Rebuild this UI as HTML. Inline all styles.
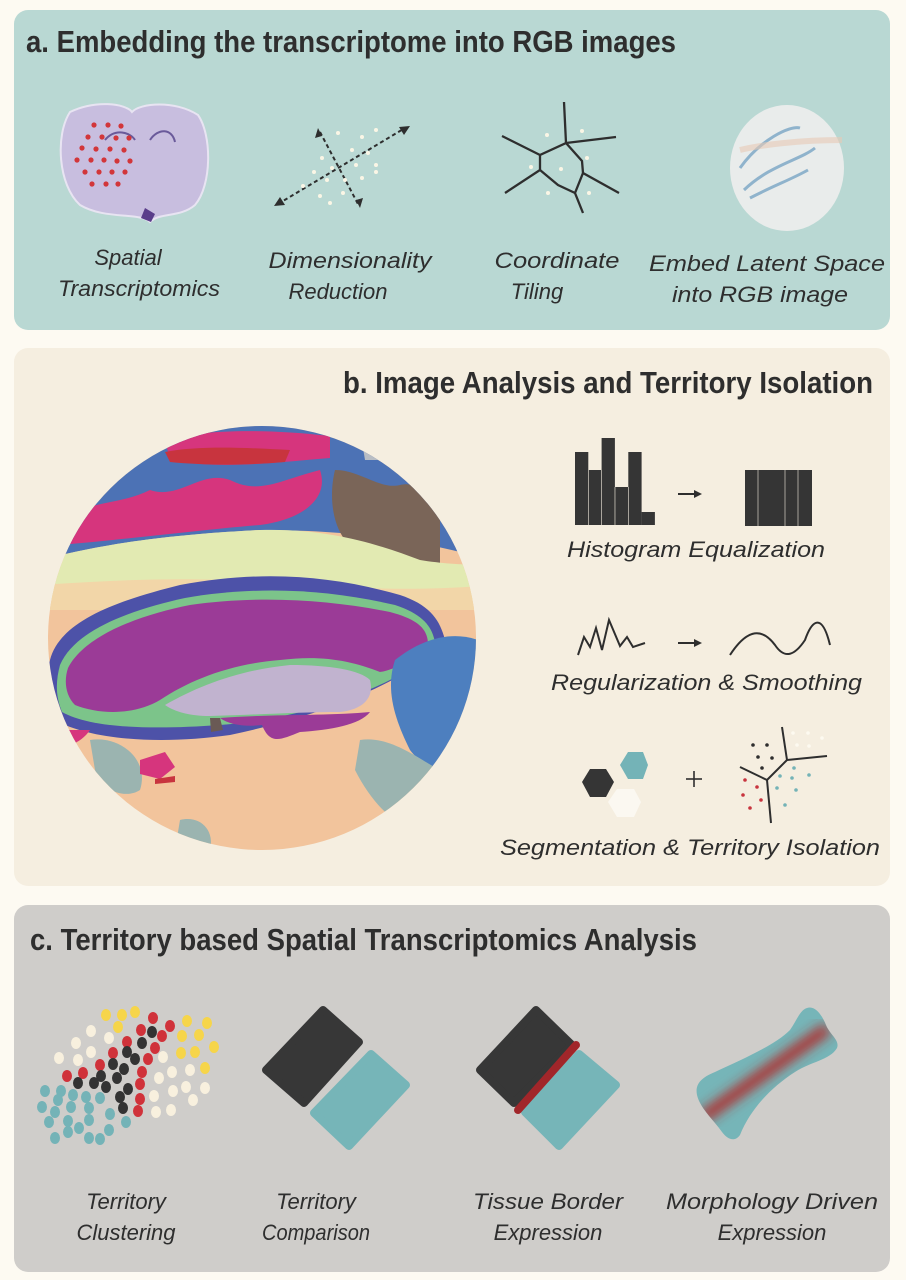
<!DOCTYPE html>
<html><head><meta charset="utf-8"><style>
html,body{margin:0;padding:0;background:#fdfaf2;}
svg{display:block}
.t{font-family:"Liberation Sans Narrow","Liberation Sans",sans-serif;font-weight:bold;fill:#2e2e2e}
.l{font-family:"Liberation Sans",sans-serif;font-style:italic;fill:#2e2e2e;font-size:22px}
</style></head><body>
<svg width="906" height="1280" viewBox="0 0 906 1280" xmlns="http://www.w3.org/2000/svg">
<defs>
<clipPath id="cc"><ellipse cx="262" cy="638" rx="214" ry="212"/></clipPath>
<clipPath id="mc"><path d="M807,1008 C815,1005 822,1015 826,1025 C830,1035 840,1040 837,1048 C830,1060 810,1062 795,1072 C770,1088 750,1110 740,1135 C735,1142 728,1140 722,1132 C712,1118 700,1108 697,1095 C695,1085 700,1078 715,1072 C745,1058 775,1045 790,1030 C797,1020 800,1010 807,1008Z"/></clipPath>
<filter id="bl"><feGaussianBlur stdDeviation="6"/></filter>
</defs>
<rect width="906" height="1280" fill="#fdfaf2"/>
<!-- Panel a -->
<rect x="14" y="10" width="876" height="320" rx="14" fill="#b9d8d3"/>
<text class="t" x="26" y="52" font-size="31" textLength="650" lengthAdjust="spacingAndGlyphs">a. Embedding the transcriptome into RGB images</text>
<path d="M70,112 C95,100 125,103 132,112 C140,103 175,100 198,115 C212,135 212,185 195,205 C180,218 160,212 150,222 C140,212 105,220 80,205 C58,185 55,135 70,112Z" fill="#c8bedf" stroke="#e8e4f2" stroke-width="2"/>
<path d="M145,208 l10,6 l-4,8 l-10,-4z" fill="#5a3d8a"/>
<path d="M105,140 C115,128 130,132 135,140 M150,140 C158,128 172,128 175,142" stroke="#6a5a9a" stroke-width="2" fill="none"/>
<g fill="#d2363a">
<circle cx="94" cy="125" r="2.6"/><circle cx="108" cy="125" r="2.6"/><circle cx="121" cy="126" r="2.6"/>
<circle cx="88" cy="137" r="2.6"/><circle cx="102" cy="137" r="2.6"/><circle cx="116" cy="138" r="2.6"/><circle cx="129" cy="138" r="2.6"/>
<circle cx="82" cy="148" r="2.6"/><circle cx="96" cy="149" r="2.6"/><circle cx="110" cy="149" r="2.6"/><circle cx="124" cy="150" r="2.6"/>
<circle cx="77" cy="160" r="2.6"/><circle cx="91" cy="160" r="2.6"/><circle cx="104" cy="160" r="2.6"/><circle cx="117" cy="161" r="2.6"/><circle cx="130" cy="161" r="2.6"/>
<circle cx="85" cy="172" r="2.6"/><circle cx="99" cy="172" r="2.6"/><circle cx="112" cy="172" r="2.6"/><circle cx="125" cy="172" r="2.6"/>
<circle cx="92" cy="184" r="2.6"/><circle cx="106" cy="184" r="2.6"/><circle cx="118" cy="184" r="2.6"/>
</g>
<g stroke="#2e2e2e" stroke-width="2" stroke-dasharray="4,3" fill="none">
<line x1="278" y1="204" x2="405" y2="128"/><line x1="320" y1="132" x2="358" y2="204"/>
</g>
<path d="M410,126 l-11,1 l5,8z M274,206 l11,-1 l-5,-8z M318,128 l-3,10 l7,-2z M360,208 l3,-10 l-7,2z" fill="#2e2e2e"/>
<g fill="#fbf6e6">
<circle cx="338" cy="133" r="2"/><circle cx="362" cy="137" r="2"/><circle cx="376" cy="130" r="2"/><circle cx="352" cy="150" r="2"/><circle cx="368" cy="153" r="2"/><circle cx="322" cy="158" r="2"/><circle cx="332" cy="168" r="2"/><circle cx="356" cy="165" r="2"/><circle cx="376" cy="165" r="2"/><circle cx="314" cy="172" r="2"/><circle cx="327" cy="180" r="2"/><circle cx="345" cy="180" r="2"/><circle cx="362" cy="178" r="2"/><circle cx="376" cy="172" r="2"/><circle cx="303" cy="186" r="2"/><circle cx="320" cy="196" r="2"/><circle cx="343" cy="193" r="2"/><circle cx="330" cy="203" r="2"/>
</g>
<g stroke="#2e2e2e" stroke-width="2.3" fill="none">
<path d="M564,102 L566,143 L540,155 L540,170 L505,193"/>
<path d="M566,143 L616,137"/><path d="M566,143 L582,161 L583,173 L619,193"/><path d="M583,173 L575,193 L583,213"/><path d="M540,170 L558,185 L575,193"/><path d="M540,155 L502,136"/>
</g>
<g fill="#fbf6e6"><circle cx="547" cy="135" r="2"/><circle cx="582" cy="131" r="2"/><circle cx="587" cy="158" r="2"/><circle cx="531" cy="167" r="2"/><circle cx="561" cy="169" r="2"/><circle cx="548" cy="193" r="2"/><circle cx="589" cy="193" r="2"/></g>
<ellipse cx="787" cy="168" rx="57" ry="63" fill="#e9eceb"/>
<path d="M740,168 C760,140 790,125 800,128 M744,190 C770,165 800,160 815,148 M750,198 C775,185 790,180 808,170" stroke="#8fb3cc" stroke-width="3" fill="none"/>
<path d="M740,150 C760,145 800,140 842,140" stroke="#e8c9b5" stroke-width="6" fill="none" opacity="0.6"/>
<text class="l" x="128" y="265" text-anchor="middle">Spatial</text>
<text class="l" x="139" y="296" text-anchor="middle" textLength="162" lengthAdjust="spacingAndGlyphs">Transcriptomics</text>
<text class="l" x="350" y="268" text-anchor="middle" textLength="163" lengthAdjust="spacingAndGlyphs">Dimensionality</text>
<text class="l" x="338" y="299" text-anchor="middle">Reduction</text>
<text class="l" x="557" y="268" text-anchor="middle" textLength="125" lengthAdjust="spacingAndGlyphs">Coordinate</text>
<text class="l" x="537" y="299" text-anchor="middle">Tiling</text>
<text class="l" x="767" y="271" text-anchor="middle" textLength="236" lengthAdjust="spacingAndGlyphs">Embed Latent Space</text>
<text class="l" x="760" y="302" text-anchor="middle" textLength="176" lengthAdjust="spacingAndGlyphs">into RGB image</text>

<!-- Panel b -->
<rect x="14" y="348" width="876" height="538" rx="14" fill="#f5eee0"/>
<text class="t" x="343" y="393" font-size="31" textLength="530" lengthAdjust="spacingAndGlyphs">b. Image Analysis and Territory Isolation</text>
<g clip-path="url(#cc)">
<rect x="40" y="420" width="450" height="440" fill="#f2c49c"/>
<path d="M40,420 H490 V560 C420,540 350,530 260,530 C160,535 100,545 40,560Z" fill="#4c72b5"/>
<path d="M60,520 C90,500 120,505 150,490 C180,500 200,470 230,480 C260,495 280,480 320,470 C330,500 300,520 260,525 C200,530 120,540 60,545Z" fill="#d6357d"/>
<path d="M165,440 C200,430 260,428 330,436 L330,458 C280,462 220,470 170,460Z" fill="#d6357d"/>
<path d="M165,452 C200,445 250,448 290,450 L285,462 C240,466 200,465 170,462Z" fill="#c8343e"/>
<path d="M335,470 C360,470 380,490 400,485 C420,480 430,500 440,520 L440,570 C400,570 370,550 345,540 C330,520 330,490 335,470Z" fill="#7a6558"/>
<path d="M360,430 C380,425 395,440 390,460 L365,460Z" fill="#b8bdc4"/>
<path d="M40,470 L80,485 C70,510 60,530 40,540Z" fill="#d6357d"/>
<path d="M40,560 C100,545 160,535 260,530 C330,528 380,545 420,560 C450,565 480,565 490,565 V600 H40Z" fill="#e2eab2"/>
<path d="M40,585 C120,580 200,575 300,585 C380,590 440,590 490,585 V610 H40Z" fill="#f2d6a8"/>
<path d="M50,660 C60,620 120,600 180,585 C260,570 330,575 400,595 C430,605 440,620 445,640 C430,650 420,660 410,670 C360,700 300,720 230,735 C160,745 90,740 55,720 C45,700 45,680 50,660Z" fill="#4d52a8"/>
<path d="M60,665 C75,630 130,610 185,598 C260,585 330,590 395,605 C425,615 432,628 435,642 C420,660 405,672 390,680 C340,705 280,720 220,725 C150,730 90,728 62,712 C55,695 56,680 60,665Z" fill="#7cc48a"/>
<path d="M68,668 C85,635 140,615 190,605 C260,595 330,600 390,612 C420,620 428,630 428,645 C410,660 395,670 380,672 C350,660 320,655 280,660 C230,664 190,680 160,700 C135,715 100,715 75,705 C65,695 64,680 68,668Z" fill="#9b3b97"/>
<path d="M165,705 C200,685 240,670 290,665 C330,665 360,670 370,680 C375,700 360,710 340,712 C300,712 250,715 210,716 C190,716 175,712 165,705Z" fill="#c1b3cf"/>
<path d="M220,718 C270,714 330,716 370,712 C360,725 330,730 300,732 C280,740 270,745 262,725 C245,727 230,725 220,718Z" fill="#9b3b97"/>
<path d="M395,660 C420,640 450,630 478,640 L478,770 C450,775 425,770 410,750 C395,720 385,690 395,660Z" fill="#4d7fbf"/>
<path d="M360,740 C390,735 420,760 440,770 C450,790 430,820 410,830 C390,820 370,800 355,770Z" fill="#9bb4b0"/>
<path d="M45,730 L90,730 C80,745 60,750 45,750Z" fill="#d6357d"/>
<path d="M90,740 C120,735 150,760 140,790 C125,800 100,790 95,770Z" fill="#9bb4b0"/>
<path d="M140,760 l25,-8 l10,15 l-15,12 l-20,-5z" fill="#d6357d"/>
<path d="M210,718 l10,0 l3,12 l-12,2z" fill="#6a5a55"/>
<path d="M155,779 l20,-3 l0,6 l-20,2z" fill="#c8343e"/>
<path d="M420,790 C440,780 470,780 478,790 L478,830 C450,830 430,815 420,800Z" fill="#eee6a0"/>
<path d="M180,820 C200,815 215,830 210,850 L175,850Z" fill="#9bb4b0"/>
</g>
<g fill="#353535">
<rect x="575" y="452" width="13.3" height="73"/><rect x="588.3" y="470" width="13.3" height="55"/><rect x="601.6" y="438" width="13.3" height="87"/><rect x="615" y="487" width="13.3" height="38"/><rect x="628.3" y="452" width="13.3" height="73"/><rect x="641.6" y="512" width="13.3" height="13"/>
<rect x="745" y="470" width="67" height="56"/>
</g>
<g stroke="#f5eee0" stroke-width="0.6"><line x1="588.3" y1="470" x2="588.3" y2="525"/><line x1="601.6" y1="470" x2="601.6" y2="525"/><line x1="615" y1="487" x2="615" y2="525"/><line x1="628.3" y1="487" x2="628.3" y2="525"/><line x1="758" y1="470" x2="758" y2="526"/><line x1="785" y1="470" x2="785" y2="526"/><line x1="798" y1="470" x2="798" y2="526"/></g>
<g stroke="#2e2e2e" stroke-width="2" fill="none">
<line x1="678" y1="494" x2="696" y2="494"/><line x1="678" y1="643" x2="696" y2="643"/>
<path d="M578,655 L584,637 L590,647 L596,628 L602,650 L609,620 L620,646 L627,637 L633,647 L645,643"/>
<path d="M730,655 C745,632 760,625 775,645 C785,660 795,655 805,640 C812,620 822,612 830,645"/>
<line x1="782" y1="727" x2="787" y2="760"/><line x1="787" y1="760" x2="827" y2="756"/><line x1="787" y1="760" x2="767" y2="780"/><line x1="767" y1="780" x2="740" y2="767"/><line x1="767" y1="780" x2="771" y2="823"/>
<line x1="686" y1="779" x2="702" y2="779" stroke-width="1.6"/><line x1="694" y1="771" x2="694" y2="787" stroke-width="1.6"/>
</g>
<path d="M702,494 l-8,-4 v8z M702,643 l-8,-4 v8z" fill="#2e2e2e"/>
<polygon points="628,752 643,752 648,765 643,779 628,779 620,765" fill="#74b3b7"/>
<polygon points="617,789 634,789 641,802 634,817 617,817 608,802" fill="#fbf8f1"/>
<polygon points="590,769 606,769 614,782 606,797 590,797 582,782" fill="#353535"/>
<g fill="#2e2e2e"><circle cx="753" cy="745" r="1.8"/><circle cx="767" cy="745" r="1.8"/><circle cx="758" cy="757" r="1.8"/><circle cx="772" cy="758" r="1.8"/><circle cx="762" cy="768" r="1.8"/></g>
<g fill="#c8343e"><circle cx="745" cy="780" r="1.8"/><circle cx="757" cy="787" r="1.8"/><circle cx="743" cy="795" r="1.8"/><circle cx="761" cy="800" r="1.8"/><circle cx="750" cy="808" r="1.8"/></g>
<g fill="#74b3b7"><circle cx="780" cy="776" r="1.8"/><circle cx="794" cy="768" r="1.8"/><circle cx="792" cy="778" r="1.8"/><circle cx="809" cy="775" r="1.8"/><circle cx="777" cy="788" r="1.8"/><circle cx="796" cy="790" r="1.8"/><circle cx="785" cy="805" r="1.8"/></g>
<g fill="#fdfaf0"><circle cx="793" cy="733" r="1.8"/><circle cx="808" cy="733" r="1.8"/><circle cx="822" cy="738" r="1.8"/><circle cx="797" cy="745" r="1.8"/><circle cx="809" cy="746" r="1.8"/></g>
<text class="l" x="567" y="557" textLength="258" lengthAdjust="spacingAndGlyphs">Histogram Equalization</text>
<text class="l" x="551" y="690" textLength="311" lengthAdjust="spacingAndGlyphs">Regularization &amp; Smoothing</text>
<text class="l" x="500" y="855" textLength="380" lengthAdjust="spacingAndGlyphs">Segmentation &amp; Territory Isolation</text>

<!-- Panel c -->
<rect x="14" y="905" width="876" height="367" rx="14" fill="#cfcdca"/>
<text class="t" x="30" y="950" font-size="31" textLength="667" lengthAdjust="spacingAndGlyphs">c. Territory based Spatial Transcriptomics Analysis</text>
<g fill="#f6d54a"><ellipse cx="106" cy="1015" rx="5" ry="6"/><ellipse cx="122" cy="1015" rx="5" ry="6"/><ellipse cx="135" cy="1012" rx="5" ry="6"/><ellipse cx="118" cy="1027" rx="5" ry="6"/><ellipse cx="187" cy="1021" rx="5" ry="6"/><ellipse cx="207" cy="1023" rx="5" ry="6"/><ellipse cx="182" cy="1036" rx="5" ry="6"/><ellipse cx="199" cy="1035" rx="5" ry="6"/><ellipse cx="214" cy="1047" rx="5" ry="6"/><ellipse cx="181" cy="1053" rx="5" ry="6"/><ellipse cx="195" cy="1052" rx="5" ry="6"/><ellipse cx="205" cy="1068" rx="5" ry="6"/></g>
<g fill="#d0323a"><ellipse cx="153" cy="1018" rx="5" ry="6"/><ellipse cx="170" cy="1026" rx="5" ry="6"/><ellipse cx="141" cy="1030" rx="5" ry="6"/><ellipse cx="162" cy="1036" rx="5" ry="6"/><ellipse cx="127" cy="1042" rx="5" ry="6"/><ellipse cx="155" cy="1048" rx="5" ry="6"/><ellipse cx="113" cy="1053" rx="5" ry="6"/><ellipse cx="148" cy="1059" rx="5" ry="6"/><ellipse cx="100" cy="1065" rx="5" ry="6"/><ellipse cx="83" cy="1073" rx="5" ry="6"/><ellipse cx="67" cy="1076" rx="5" ry="6"/><ellipse cx="142" cy="1072" rx="5" ry="6"/><ellipse cx="140" cy="1084" rx="5" ry="6"/><ellipse cx="140" cy="1099" rx="5" ry="6"/><ellipse cx="138" cy="1111" rx="5" ry="6"/></g>
<g fill="#333333"><ellipse cx="152" cy="1032" rx="5" ry="6"/><ellipse cx="142" cy="1043" rx="5" ry="6"/><ellipse cx="127" cy="1052" rx="5" ry="6"/><ellipse cx="135" cy="1059" rx="5" ry="6"/><ellipse cx="113" cy="1064" rx="5" ry="6"/><ellipse cx="124" cy="1069" rx="5" ry="6"/><ellipse cx="101" cy="1076" rx="5" ry="6"/><ellipse cx="117" cy="1078" rx="5" ry="6"/><ellipse cx="78" cy="1083" rx="5" ry="6"/><ellipse cx="94" cy="1083" rx="5" ry="6"/><ellipse cx="106" cy="1087" rx="5" ry="6"/><ellipse cx="128" cy="1089" rx="5" ry="6"/><ellipse cx="120" cy="1097" rx="5" ry="6"/><ellipse cx="123" cy="1108" rx="5" ry="6"/></g>
<g fill="#f8f0de"><ellipse cx="91" cy="1031" rx="5" ry="6"/><ellipse cx="109" cy="1038" rx="5" ry="6"/><ellipse cx="76" cy="1043" rx="5" ry="6"/><ellipse cx="91" cy="1052" rx="5" ry="6"/><ellipse cx="59" cy="1058" rx="5" ry="6"/><ellipse cx="78" cy="1060" rx="5" ry="6"/><ellipse cx="163" cy="1057" rx="5" ry="6"/><ellipse cx="172" cy="1072" rx="5" ry="6"/><ellipse cx="159" cy="1078" rx="5" ry="6"/><ellipse cx="190" cy="1070" rx="5" ry="6"/><ellipse cx="186" cy="1087" rx="5" ry="6"/><ellipse cx="205" cy="1088" rx="5" ry="6"/><ellipse cx="173" cy="1091" rx="5" ry="6"/><ellipse cx="154" cy="1096" rx="5" ry="6"/><ellipse cx="193" cy="1100" rx="5" ry="6"/><ellipse cx="171" cy="1110" rx="5" ry="6"/><ellipse cx="156" cy="1112" rx="5" ry="6"/></g>
<g fill="#74b3b7"><ellipse cx="45" cy="1091" rx="5" ry="6"/><ellipse cx="61" cy="1091" rx="5" ry="6"/><ellipse cx="73" cy="1095" rx="5" ry="6"/><ellipse cx="86" cy="1097" rx="5" ry="6"/><ellipse cx="100" cy="1098" rx="5" ry="6"/><ellipse cx="58" cy="1100" rx="5" ry="6"/><ellipse cx="42" cy="1107" rx="5" ry="6"/><ellipse cx="71" cy="1107" rx="5" ry="6"/><ellipse cx="89" cy="1108" rx="5" ry="6"/><ellipse cx="55" cy="1112" rx="5" ry="6"/><ellipse cx="110" cy="1114" rx="5" ry="6"/><ellipse cx="49" cy="1122" rx="5" ry="6"/><ellipse cx="68" cy="1121" rx="5" ry="6"/><ellipse cx="89" cy="1120" rx="5" ry="6"/><ellipse cx="126" cy="1122" rx="5" ry="6"/><ellipse cx="79" cy="1128" rx="5" ry="6"/><ellipse cx="68" cy="1132" rx="5" ry="6"/><ellipse cx="109" cy="1130" rx="5" ry="6"/><ellipse cx="55" cy="1138" rx="5" ry="6"/><ellipse cx="89" cy="1138" rx="5" ry="6"/><ellipse cx="100" cy="1139" rx="5" ry="6"/></g>
<g stroke-linejoin="round" stroke-width="8">
<polygon points="323,1010 359,1042 304,1103 266,1070" fill="#373737" stroke="#373737"/>
<polygon points="371,1054 406,1085 349,1146 314,1113" fill="#76b5b8" stroke="#76b5b8"/>
<polygon points="536,1010 572,1045 514,1103 480,1070" fill="#373737" stroke="#373737"/>
<polygon points="579,1054 616,1085 559,1146 525,1112" fill="#76b5b8" stroke="#76b5b8"/>
</g>
<line x1="576" y1="1045" x2="518" y2="1110" stroke="#a1262a" stroke-width="8" stroke-linecap="round"/>
<g clip-path="url(#mc)">
<rect x="690" y="1000" width="160" height="150" fill="#76b5b8"/>
<line x1="828" y1="1028" x2="702" y2="1118" stroke="#b02a2a" stroke-width="12" filter="url(#bl)"/>
</g>
<text class="l" x="126" y="1209" text-anchor="middle">Territory</text>
<text class="l" x="126" y="1240" text-anchor="middle">Clustering</text>
<text class="l" x="316" y="1209" text-anchor="middle">Territory</text>
<text class="l" x="316" y="1240" text-anchor="middle" textLength="108" lengthAdjust="spacingAndGlyphs">Comparison</text>
<text class="l" x="548" y="1209" text-anchor="middle" textLength="150" lengthAdjust="spacingAndGlyphs">Tissue Border</text>
<text class="l" x="548" y="1240" text-anchor="middle">Expression</text>
<text class="l" x="772" y="1209" text-anchor="middle" textLength="212" lengthAdjust="spacingAndGlyphs">Morphology Driven</text>
<text class="l" x="772" y="1240" text-anchor="middle">Expression</text>
</svg>
</body></html>
